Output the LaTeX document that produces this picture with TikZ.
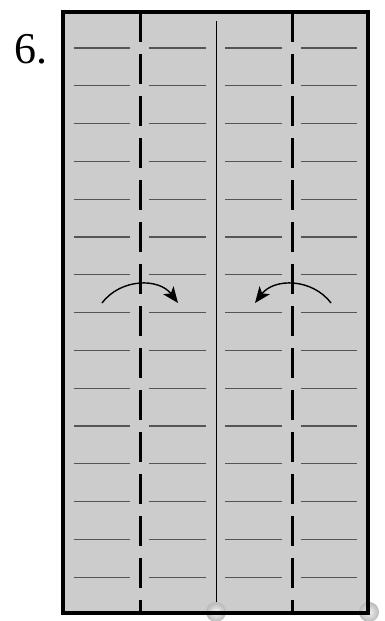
\documentclass[tikz,border=0pt]{standalone}
\usepackage{fontspec}
\setmainfont{Liberation Serif}
\newfontfamily\stepfont{Liberation Serif}
\usetikzlibrary{arrows.meta}
\definecolor{sheet}{HTML}{CCCCCC}
\definecolor{crease}{HTML}{555555}

\begin{document}
\begin{tikzpicture}[
   x=1pt, y=-1pt,
   edge/.style={line width=3.2pt, line join=miter},
   valley/.style={line width=3pt, dash pattern=on 30pt off 12pt},
   ligne/.style={crease, line width=1.2pt},
   pin/.style={inner color=gray!10, outer color=gray!55},
   fold/.style={-{Stealth[length=16pt,width=13pt,inset=4pt]}, line width=1.4pt}]
  \useasboundingbox (0,0) rectangle (384,621);
  \fill[sheet] (63,12) rectangle (368,613);
  % short lines on the paper
  \foreach \k in {0,...,14} {
    \foreach \a/\b in {74/130,149/206,225/282,301/357} {
      \draw[ligne] (\a,48+37.8*\k) -- (\b,48+37.8*\k);
    }
  }
  \draw[valley] (140,12) -- (140,613);
  \draw[valley] (292,12) -- (292,613);
  \draw[line width=1pt] (216,21) -- (216,613);
  \shade[pin] (216,612) circle (10);
  \shade[pin] (369,612) circle (10);
  \draw[edge] (63,12) rectangle (368,613);
  \node[anchor=base west, inner sep=0pt, font=\stepfont\fontsize{44}{44}\selectfont] (num) at (14,63) {6.};
  \coordinate (la) at (102,303);
  \coordinate (lb) at (178,303);
  \coordinate (ra) at (331,303);
  \coordinate (rb) at (255,303);
  \draw[fold] (la) .. controls (121,278) and (159,278) .. (lb);
  \draw[fold] (ra) .. controls (312,278) and (274,278) .. (rb);
\end{tikzpicture}
\end{document}
